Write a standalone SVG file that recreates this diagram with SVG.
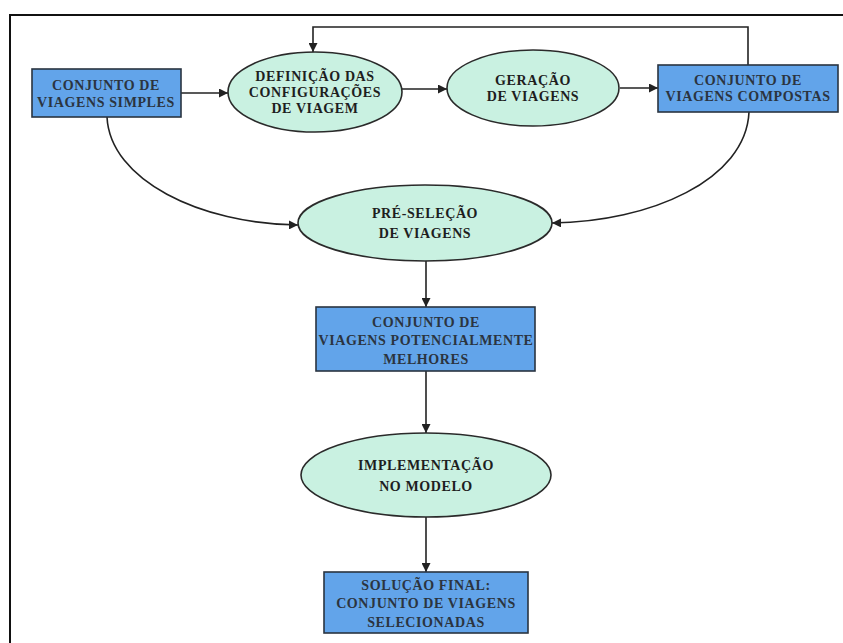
<svg xmlns="http://www.w3.org/2000/svg" width="843" height="643" viewBox="0 0 843 643">
<style>
.box{fill:#62a4ea;stroke:#2a3440;stroke-width:1.6}
.ell{fill:#c9f1e1;stroke:#2a2a2a;stroke-width:1.6}
text{font-family:'Liberation Serif','Times New Roman',serif;font-weight:bold;font-size:14px;letter-spacing:0.6px;text-anchor:middle;fill:#1e1e1e}
.tb{fill:#2b3440}
.c{fill:none;stroke:#222;stroke-width:1.6}
.frame{fill:none;stroke:#111;stroke-width:2}
</style>
<defs>
<marker id="ah" viewBox="0 0 10 10" refX="10" refY="5" markerWidth="9" markerHeight="9" markerUnits="userSpaceOnUse" orient="auto">
<path d="M0,0 L10,5 L0,10 z" fill="#222"/>
</marker>
</defs>
<rect width="843" height="643" fill="#fff"/>
<path class="frame" d="M10,643 L10,15 L843,15"/>
<g id="connectors">
<line class="c" x1="181" y1="93" x2="228" y2="93" marker-end="url(#ah)"/>
<line class="c" x1="402" y1="89" x2="447" y2="89" marker-end="url(#ah)"/>
<line class="c" x1="620" y1="88" x2="658" y2="88" marker-end="url(#ah)"/>
<path class="c" d="M748,65 L748,27 L313,27 L313,52" marker-end="url(#ah)"/>
<path class="c" d="M107,117 C110,180 200,224 298,225" marker-end="url(#ah)"/>
<path class="c" d="M749,112 C746,180 650,222 552,223" marker-end="url(#ah)"/>
<line class="c" x1="426" y1="261" x2="426" y2="307" marker-end="url(#ah)"/>
<line class="c" x1="426" y1="371" x2="426" y2="433" marker-end="url(#ah)"/>
<line class="c" x1="426" y1="517" x2="426" y2="572" marker-end="url(#ah)"/>
</g>
<g id="n1">
<rect class="box" x="32" y="69" width="149" height="48"/>
<text class="tb" x="106" y="90">CONJUNTO DE</text>
<text class="tb" x="106" y="107">VIAGENS SIMPLES</text>
</g>
<g id="n2">
<ellipse class="ell" cx="315" cy="92" rx="87" ry="40"/>
<text x="315" y="81">DEFINIÇÃO DAS</text>
<text x="315" y="97">CONFIGURAÇÕES</text>
<text x="315" y="113">DE VIAGEM</text>
</g>
<g id="n3">
<ellipse class="ell" cx="533" cy="88" rx="86" ry="38"/>
<text x="533" y="85">GERAÇÃO</text>
<text x="533" y="101">DE VIAGENS</text>
</g>
<g id="n4">
<rect class="box" x="658" y="65" width="180" height="47"/>
<text class="tb" x="748" y="85">CONJUNTO DE</text>
<text class="tb" x="748" y="101">VIAGENS COMPOSTAS</text>
</g>
<g id="n5">
<ellipse class="ell" cx="425" cy="223" rx="127" ry="38"/>
<text x="425" y="218">PRÉ-SELEÇÃO</text>
<text x="425" y="238">DE VIAGENS</text>
</g>
<g id="n6">
<rect class="box" x="316" y="307" width="219" height="64"/>
<text class="tb" x="426" y="327">CONJUNTO DE</text>
<text class="tb" x="426" y="345">VIAGENS POTENCIALMENTE</text>
<text class="tb" x="426" y="364">MELHORES</text>
</g>
<g id="n7">
<ellipse class="ell" cx="426" cy="475" rx="125" ry="42"/>
<text x="426" y="470">IMPLEMENTAÇÃO</text>
<text x="426" y="491">NO MODELO</text>
</g>
<g id="n8">
<rect class="box" x="324" y="572" width="204" height="61"/>
<text class="tb" x="426" y="590">SOLUÇÃO FINAL:</text>
<text class="tb" x="426" y="608">CONJUNTO DE VIAGENS</text>
<text class="tb" x="426" y="627">SELECIONADAS</text>
</g>
</svg>
